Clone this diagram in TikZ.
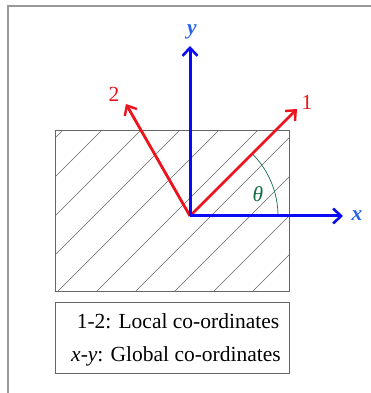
\documentclass[tikz,border=0pt]{standalone}
\usepackage{fontspec}
\setmainfont{Liberation Serif}
\usepackage{tikz}
\usetikzlibrary{arrows.meta}

\definecolor{axblue}{RGB}{10,10,245}
\definecolor{lblblue}{RGB}{40,100,235}
\definecolor{locred}{RGB}{235,20,30}
\definecolor{angreen}{RGB}{20,110,70}

\tikzset{
	axis/.style={draw=axblue, line width=3pt, -{Straight Barb[length=8pt,width=15pt,line width=2.6pt]}},
	local/.style={draw=locred, line width=2.8pt, -{Straight Barb[length=8pt,width=14pt,line width=2.4pt]}},
	lbl/.style={font=\fontsize{21.5}{24}\selectfont, inner sep=0pt}
}

\begin{document}
\begin{tikzpicture}[x=1pt,y=1pt]
			\useasboundingbox (0,0) rectangle (371,393);
			% outer frame
			\draw[gray!80, line width=1.3pt] (8,0) -- (8,387) -- (371,387);

			% lamina with fibres
			\begin{scope}
				\clip (55,101) rectangle (289,262);
				\foreach \k in {-5,...,6}
					\draw[black!60, line width=0.7pt] (57+39*\k,101) -- (218+39*\k,262);
			\end{scope}
			\draw[black!60, line width=1pt] (55,101) rectangle (289,262);

			\coordinate (ox) at (190,177);
			\coordinate (xt) at (343,177);
			\coordinate (yt) at (190,347);
			\coordinate (t1) at (297,284);
			\coordinate (t2) at (126,289);
			\node[lbl, text=lblblue]  (xl) at (357,177) {\textbf{\textit{x}}};
			\node[lbl, text=lblblue]  (yl) at (192,361) {\textbf{\textit{y}}};
			\node[lbl, text=locred]   (l1) at (307,291) {1};
			\node[lbl, text=locred]   (l2) at (114,299) {2};
			\node[lbl, text=angreen]  (th) at (258,199) {\textit{θ}};

			% angle between x and 1
			\draw[angreen, line width=0.7pt] (278,177) arc[start angle=0, end angle=45, radius=88];

			\draw
			(ox) edge[local] (t1)
			(ox) edge[local] (t2)
			(ox) edge[axis] (yt)
			(ox) edge[axis] (xt)
			;

			% legend
			\draw[black!60, line width=1pt] (55,19) rectangle (289,90);
			\node[lbl]  (leg1) at (178,72) {1-2: Local co-ordinates};
			\node[lbl]  (leg2) at (176,37) {\textit{x}-\textit{y}: Global co-ordinates};
		\end{tikzpicture}
\end{document}
